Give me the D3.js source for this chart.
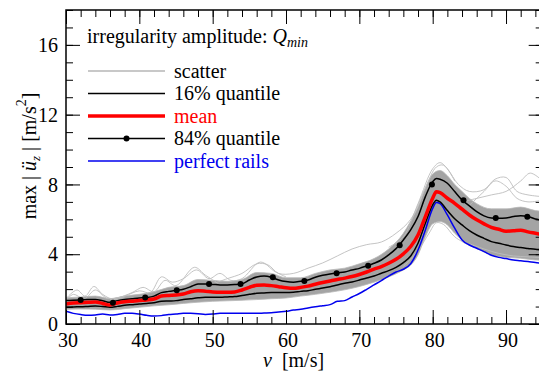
<!DOCTYPE html>
<html>
<head>
<meta charset="utf-8">
<script src="https://cdn.jsdelivr.net/npm/d3@7"></script>
<style>
  html, body { margin: 0; padding: 0; background: #fff; overflow: hidden; }
  svg, svg text { font-family: "Liberation Serif", "Times New Roman", "DejaVu Serif", serif; }
</style>
</head>
<body>
<div id="chart"></div>
<script>
// speeds v [m/s]
const speeds = [30,31,32,33,34,35,36,37,38,39,40,41,42,43,44,45,46,47,48,49,50,51,52,53,54,55,56,57,58,59,
  60,61,62,63,64,65,66,67,68,69,70,71,72,73,74,75,76,77,78,79,80,80.5,81,82,83,84,85,86,87,88,89,90,91,92,93,94,95];

const meanVals = [1.15,1.2,1.22,1.24,1.26,1.18,1.09,1.2,1.27,1.31,1.35,1.38,1.43,1.6,1.64,1.66,1.72,1.85,1.91,1.88,
  1.84,1.82,1.82,1.84,1.95,2.1,2.22,2.24,2.2,2.14,2.08,2.05,2.1,2.17,2.28,2.38,2.47,2.55,2.63,2.72,
  2.84,2.98,3.14,3.29,3.48,3.71,4.02,4.44,5.1,6.16,7.21,7.58,7.53,7.21,6.92,6.58,6.25,5.97,5.74,5.54,5.43,5.32,5.34,5.38,5.28,5.2,5.12];

const q84Vals = [1.34,1.36,1.38,1.4,1.41,1.33,1.24,1.34,1.41,1.45,1.49,1.52,1.6,1.8,1.87,1.93,1.99,2.14,2.29,2.3,
  2.27,2.24,2.24,2.26,2.31,2.52,2.7,2.75,2.68,2.52,2.43,2.4,2.45,2.52,2.68,2.79,2.87,2.93,2.98,3.1,
  3.19,3.33,3.48,3.67,3.96,4.32,4.82,5.39,6.16,7.3,8.16,8.34,8.3,8.07,7.59,7.11,6.77,6.44,6.2,6.08,6.06,6.08,6.16,6.21,6.16,6.02,5.95];

const q16Vals = [0.96,0.98,0.99,1.01,1.03,1.0,0.96,1.01,1.07,1.11,1.15,1.18,1.22,1.3,1.32,1.34,1.4,1.45,1.5,1.53,
  1.53,1.53,1.55,1.57,1.64,1.7,1.76,1.78,1.8,1.8,1.8,1.82,1.87,1.91,1.99,2.06,2.14,2.24,2.33,2.41,
  2.52,2.64,2.75,2.91,3.06,3.25,3.52,3.9,4.63,5.77,6.83,7.1,7.0,6.5,6.03,5.68,5.35,5.1,4.91,4.72,4.63,4.53,4.44,4.38,4.33,4.28,4.25];

const railVals = [0.73,0.61,0.54,0.5,0.52,0.57,0.52,0.55,0.61,0.61,0.57,0.5,0.46,0.48,0.54,0.57,0.61,0.61,0.59,0.55,
  0.57,0.61,0.61,0.61,0.61,0.61,0.61,0.63,0.65,0.69,0.73,0.8,0.84,0.92,0.99,1.05,1.11,1.3,1.34,1.55,
  1.75,1.99,2.24,2.49,2.75,2.98,3.14,3.45,4.24,5.39,6.63,6.96,6.9,6.25,5.49,4.82,4.53,4.34,4.15,3.94,3.82,3.75,3.67,3.63,3.58,3.52,3.48];

// 84% quantile markers
const dotSpeeds = [32,36.4,40.8,45.1,49.5,53.8,58.2,62.5,66.9,71.2,75.5,79.9,84.2,88.6,92.9];
const dotVals = [1.37,1.22,1.52,1.93,2.3,2.29,2.68,2.47,2.91,3.34,4.52,8.0,7.1,6.07,6.15];

// dense scatter band
const bandSpeeds = [30,32,34,36,38,40,42,44,46,48,50,52,54,56,58,60,62,64,66,68,70,72,74,76,77,78,79,80,81,82,83,84,85,86,88,90,92,94,95];
const bandLo = [0.84,0.86,0.85,0.8,0.88,0.96,1.04,1.1,1.18,1.25,1.3,1.33,1.36,1.4,1.45,1.49,1.6,1.7,1.82,1.96,2.15,2.4,2.7,3.1,3.38,3.96,5.0,5.74,5.87,5.68,5.2,4.82,4.53,4.34,3.96,3.82,3.77,3.67,3.65];
const bandHi = [1.5,1.55,1.6,1.45,1.6,1.7,1.85,2.1,2.2,2.55,2.5,2.45,2.55,2.95,2.9,2.65,2.65,2.9,3.1,3.2,3.45,3.75,4.3,5.2,5.9,6.7,7.8,8.6,8.8,8.5,8.0,7.6,7.2,6.9,6.6,6.6,6.7,6.5,6.45];

// individual scatter curves outside the dense band: [v, value]
const scatterA = [[30,1.45],[31.5,1.95],[32.6,1.6],[33.8,2.15],[35,1.7],[36.5,1.4],[38,1.55]];
const scatterB = [[30,1.35],[31,1.7],[32.5,1.45],[34,1.95],[35.5,1.5],[37,1.5],[39,1.8],[40.5,2.1],[42,1.85],[43.5,2.5],[45,2.2],[47.5,3.25],[49,2.8],[50.5,2.4]];
const scatterC = [[36,1.4],[38,1.6],[40,1.9],[41.5,1.8],[43,2.7],[44.5,2.4],[46,2.6],[47.8,3.1],[49.5,2.6],[51,2.9],[52.5,2.5],[54,2.6],[56.5,3.55],[58.5,3.0],[60,2.7]];
const scatterD = [[50,2.3],[52,2.6],[54,2.9],[56,3.45],[57.5,3.4],[59,2.9],[61,2.9],[63,3.2],[65,3.5],[67,3.9],[69,4.3],[71,4.55],[73,4.7],[75,5.2],[77,6.0],[79,7.8],[80.5,9.0],[81.5,9.1],[83,8.2]];
const scatterE = [[74,4.4],[76,5.0],[78,6.9],[80,8.9],[81,9.25],[82,8.9],[83.5,8.0],[85,7.6],[87,7.7],[88.5,8.3],[90,8.4],[91.5,7.6],[93,7.4],[95,7.3]];
const scatterF = [[84,7.0],[86,7.2],[88,7.4],[90,7.6],[92,8.2],[93.3,8.65],[95,8.2]];
const scatterG = [[85,6.8],[87,7.6],[88.5,8.2],[90,7.9],[91.5,7.2],[93,7.0],[95,7.1]];
const scatterH = [[76,3.3],[78,4.2],[79.5,5.2],[80.5,5.8],[81.5,5.7],[83,5.0],[85,4.5]];
const scatterI = [[85,4.6],[87,4.3],[89,4.05],[91,3.9],[93,3.85],[95,3.8]];
const scatterSets = [scatterA, scatterB, scatterC, scatterD, scatterE, scatterF, scatterG, scatterH, scatterI];

const xTicks = [30,40,50,60,70,80,90];
const yTicks = [0,4,8,12,16];

const legendLabels = ['scatter', '16% quantile', 'mean', '84% quantile', 'perfect rails'];

const serif = '"Liberation Serif", "Times New Roman", "DejaVu Serif", serif';
const width = 539, height = 372;
const pLeft = 66, pRight = 542.7, pTop = 10, pBottom = 324;

const svg = d3.select('#chart').append('svg')
  .attr('width', width)
  .attr('height', height)
  .attr('font-family', serif);

const x = d3.scaleLinear().domain([30, 95]).range([pLeft, pRight]);
const y = d3.scaleLinear().domain([0, 18]).range([pBottom, pTop]);

svg.append('defs').append('clipPath').attr('id', 'plot')
  .append('rect').attr('x', pLeft).attr('y', pTop).attr('width', pRight - pLeft).attr('height', pBottom - pTop);

const plot = svg.append('g').attr('clip-path', 'url(#plot)');

// dense band of scatter curves
const band = d3.area()
  .x((d, i) => x(bandSpeeds[i]))
  .y0((d, i) => y(bandLo[i]))
  .y1((d, i) => y(bandHi[i]))
  .curve(d3.curveMonotoneX);
plot.append('path').datum(bandSpeeds)
  .attr('d', band)
  .attr('fill', '#a4a4a4')
  .attr('stroke', '#b8b8b8')
  .attr('stroke-width', 0.8);

const scatterLine = d3.line()
  .x(d => x(d[0]))
  .y(d => y(d[1]))
  .curve(d3.curveCatmullRom);
plot.selectAll('path.scatter')
  .data(scatterSets)
  .join('path')
  .attr('class', 'scatter')
  .attr('d', scatterLine)
  .attr('fill', 'none')
  .attr('stroke', '#bdbdbd')
  .attr('stroke-width', 0.9);

const seriesLine = vals => d3.line()
  .x((d, i) => x(speeds[i]))
  .y(d => y(d))
  .curve(d3.curveMonotoneX)(vals);

plot.append('path').attr('d', seriesLine(railVals))
  .attr('fill', 'none').attr('stroke', '#0000ee').attr('stroke-width', 1.5);
plot.append('path').attr('d', seriesLine(q16Vals))
  .attr('fill', 'none').attr('stroke', '#000').attr('stroke-width', 1.5);
plot.append('path').attr('d', seriesLine(q84Vals))
  .attr('fill', 'none').attr('stroke', '#000').attr('stroke-width', 1.5);
plot.append('path').attr('d', seriesLine(meanVals))
  .attr('fill', 'none').attr('stroke', '#ff0000').attr('stroke-width', 3.5);

plot.selectAll('circle.dot')
  .data(dotSpeeds)
  .join('circle')
  .attr('class', 'dot')
  .attr('cx', d => x(d))
  .attr('cy', (d, i) => y(dotVals[i]))
  .attr('r', 3)
  .attr('fill', '#000');

// axes: ticks point inward on all four sides
const xMinor = d3.range(30, 96, 2);
const yMinor = d3.range(0, 19, 1);

function drawAxis(axis, transform, labels) {
  const g = svg.append('g').attr('transform', transform).call(axis);
  g.attr('font-family', serif).attr('font-size', 20);
  g.select('.domain').remove();
  g.selectAll('line').attr('stroke', '#000').attr('stroke-width', 1);
  if (!labels) g.selectAll('text').remove();
  return g;
}

drawAxis(d3.axisBottom(x).tickValues(xMinor).tickSize(-7), `translate(0,${pBottom})`, false);
drawAxis(d3.axisTop(x).tickValues(xMinor).tickSize(-7), `translate(0,${pTop})`, false);
drawAxis(d3.axisTop(x).tickValues(xTicks).tickSize(-14), `translate(0,${pTop})`, false);
drawAxis(d3.axisLeft(y).tickValues(yMinor).tickSize(-7), `translate(${pLeft},0)`, false);
drawAxis(d3.axisRight(y).tickValues(yMinor).tickSize(-7), `translate(${pRight},0)`, false);
drawAxis(d3.axisRight(y).tickValues(yTicks).tickSize(-14), `translate(${pRight},0)`, false);

const xAxis = drawAxis(d3.axisBottom(x).tickValues(xTicks).tickSize(-14).tickPadding(9), `translate(0,${pBottom})`, true);
xAxis.selectAll('text')
  .attr('fill', '#000')
  .attr('dx', 1.5);

const yAxis = drawAxis(d3.axisLeft(y).tickValues(yTicks).tickSize(-14).tickPadding(8), `translate(${pLeft},0)`, true);
yAxis.selectAll('text')
  .attr('fill', '#000')
  .attr('dy', '0.33em');

svg.append('rect')
  .attr('x', pLeft).attr('y', pTop)
  .attr('width', pRight - pLeft).attr('height', pBottom - pTop)
  .attr('fill', 'none').attr('stroke', '#000').attr('stroke-width', 1.5);

// axis titles
const xTitle = svg.append('text')
  .attr('x', 263).attr('y', 367)
  .attr('font-size', 20);
xTitle.append('tspan').attr('font-style', 'italic').text('v');
xTitle.append('tspan').text('\u00a0\u00a0[m/s]');

const yTitle = svg.append('text')
  .attr('transform', 'translate(36,156) rotate(-90)')
  .attr('text-anchor', 'middle')
  .attr('font-size', 20);
yTitle.append('tspan').text('max | ');
yTitle.append('tspan').attr('font-style', 'italic').text('\u00fc');
yTitle.append('tspan').attr('font-style', 'italic').attr('font-size', 13).attr('dy', 4).text('z');
yTitle.append('tspan').attr('dy', -4).text(' | [m/s');
yTitle.append('tspan').attr('font-size', 14).attr('dy', -10).text('2');
yTitle.append('tspan').attr('dy', 10).text(']');

// legend
const title = svg.append('text').attr('x', 87).attr('y', 43).attr('font-size', 20);
title.append('tspan').text('irregularity amplitude: ');
title.append('tspan').attr('font-style', 'italic').text('Q');
title.append('tspan').attr('font-style', 'italic').attr('font-size', 14).attr('dy', 4).text('min');

const legendColors = ['#c8c8c8', '#000', '#ff0000', '#000', '#0000ee'];
const legendWidths = [2, 1.3, 3.5, 1.3, 1.3];
const legendText = ['#000', '#000', '#ff0000', '#000', '#0000ee'];

const legend = svg.append('g');
legendLabels.forEach((label, i) => {
  const ly = 71 + i * 22.5;
  legend.append('line')
    .attr('x1', 88).attr('x2', 165).attr('y1', ly).attr('y2', ly)
    .attr('stroke', legendColors[i]).attr('stroke-width', legendWidths[i]);
  if (i === 3) {
    legend.append('circle').attr('cx', 126.5).attr('cy', ly).attr('r', 3).attr('fill', '#000');
  }
  legend.append('text')
    .attr('x', 174).attr('y', ly + 6.5)
    .attr('font-size', 20)
    .attr('fill', legendText[i])
    .text(label);
});
</script>
</body>
</html>
